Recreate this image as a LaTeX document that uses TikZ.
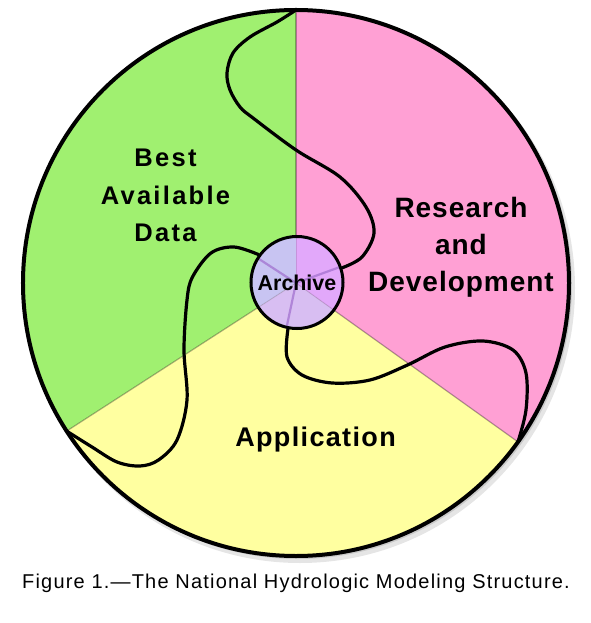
\documentclass[tikz,border=0pt]{standalone}
\usepackage{fontspec}
\setmainfont{Liberation Sans}
\usepackage{xcolor}
\definecolor{datagreen}{RGB}{160,240,112}
\definecolor{rdpink}{RGB}{255,160,212}
\definecolor{appyellow}{RGB}{255,255,160}
\definecolor{archleft}{RGB}{200,196,242}
\definecolor{archlow}{RGB}{216,190,242}
\definecolor{archright}{RGB}{226,168,250}
\definecolor{spoke}{RGB}{160,110,205}
\usepackage{tikz}

\tikzset{
    flow/.style={line width=3.2pt, line cap=round, line join=round},
    sectorlabel/.style={align=center, inner sep=0pt},
}

\begin{document}
\begin{tikzpicture}[x=1pt, y=1pt]
    \useasboundingbox (-296,-340) rectangle (294,283);

    % Soft shadow under the wheel
    \fill[black, opacity=0.10] (4,-5) circle (275);
    \fill[black, opacity=0.12] (2,-2) circle (274);

    % The three sectors of the wheel
    \coordinate (hub) at (0,0);
    \coordinate (top) at (90:273);
    \coordinate (lowleft) at (212.85:273);
    \coordinate (lowright) at (324.4:273);
    \foreach \from/\to/\col in {90/212.85/datagreen, 212.85/324.4/appyellow, 324.4/450/rdpink}
        \fill[\col] (hub) -- (\from:273) arc[start angle=\from, end angle=\to, radius=273] -- cycle;
    \foreach \a in {90, 212.85, 324.4}
        \draw[black, opacity=0.3, line width=1.2pt] (hub) -- (\a:273);

    % Archive disc in the middle
    \begin{scope}
        \clip (1,0.5) circle (46);
        \foreach \from/\to/\col in {90/212.85/archleft, 212.85/324.4/archlow, 324.4/450/archright}
            \fill[\col] (hub) -- (\from:60) arc[start angle=\from, end angle=\to, radius=60] -- cycle;
        \foreach \a in {90, 212.85, 324.4}
            \draw[black, opacity=0.12, line width=1pt] (hub) -- (\a:60);
        \foreach \a in {147, 20, 258}
            \draw[spoke, opacity=0.7, line width=2.2pt] (hub) -- (\a:60);
    \end{scope}
    \node[circle, draw, line width=3pt, minimum size=92pt, inner sep=0pt,
          font=\bfseries\fontsize{21.4}{24}\selectfont] (archive) at (1,0.5) {Archive};

    \draw[line width=4pt] (hub) circle (273);

    % Links from the rim to the archive
    \draw[flow] plot[smooth, tension=0.55] coordinates {(top) (-19,261) (-46,246) (-63,230) (-69,210)
        (-66,193) (-56,176) (-43,165) (0,133) (44,106) (70,76) (78,50) (66,26) (archive.18)};
    \draw[flow] plot[smooth, tension=0.55] coordinates {(archive.144) (-62,36) (-85,30) (-103.5,6)
        (-109,-17) (-112,-67) (-109,-117) (-119,-157) (-137.5,-177) (-156,-183) (-179,-179)
        (-204,-164) (lowleft)};
    \draw[flow] plot[smooth, tension=0.55] coordinates {(archive.259) (-9,-74) (6,-92) (36,-100)
        (74,-97) (111.5,-82) (149,-64) (187,-58) (217,-67) (230,-90) (230,-127) (lowright)};

    % Sector labels
    \node[sectorlabel, font=\fontsize{25.5}{37.5}\selectfont\bfseries\addfontfeatures{LetterSpace=9}]
        (data) at (-130.5,87.6) {Best\\Available\\Data};
    \node[sectorlabel, font=\fontsize{28}{37}\selectfont\bfseries\addfontfeatures{LetterSpace=3.5}]
        (research) at (165,35.3) {Research\\and\\Development};
    \node[sectorlabel, anchor=base, font=\fontsize{27}{32}\selectfont\bfseries\addfontfeatures{LetterSpace=5}]
        (application) at (19.5,-163) {Application};

    % Caption
    \node[anchor=base, inner sep=0pt, font=\fontsize{20}{24}\selectfont\addfontfeatures{LetterSpace=6}]
        (caption) at (0,-305.3) {Figure 1.\textemdash The National Hydrologic Modeling Structure.};
\end{tikzpicture}
\end{document}
